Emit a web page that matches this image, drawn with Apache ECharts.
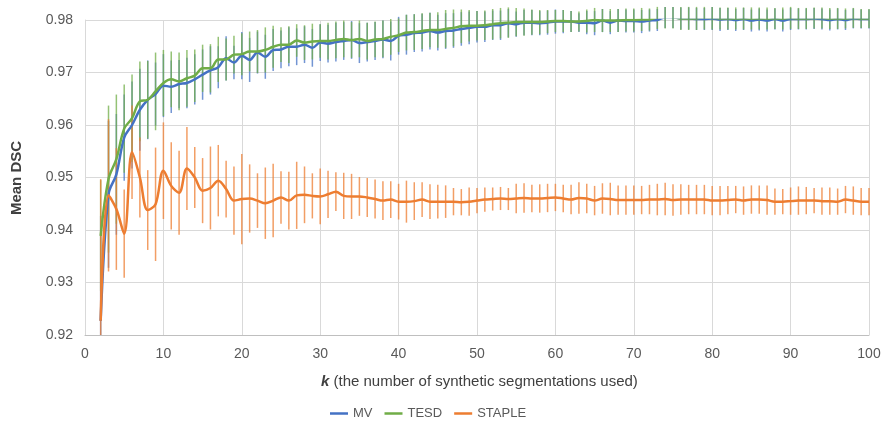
<!DOCTYPE html>
<html>
<head>
<meta charset="utf-8">
<script src="https://cdn.jsdelivr.net/npm/echarts@6/dist/echarts.min.js"></script>
<style>html,body{margin:0;padding:0;background:#fff}#c{width:889px;height:428px}</style>
</head>
<body>
<div id="c"></div>
<script>
const kValues = [2,3,4,5,6,7,8,9,10,11,12,13,14,15,16,17,18,19,20,21,22,23,24,25,26,27,28,29,30,31,32,33,34,35,36,37,38,39,40,41,42,43,44,45,46,47,48,49,50,51,52,53,54,55,56,57,58,59,60,61,62,63,64,65,66,67,68,69,70,71,72,73,74,75,76,77,78,79,80,81,82,83,84,85,86,87,88,89,90,91,92,93,94,95,96,97,98,99,100];

const mvMean = [0.9227,0.9468,0.9506,0.9576,0.9600,0.9629,0.9648,0.9659,0.9675,0.9673,0.9678,0.9680,0.9687,0.9696,0.9704,0.9710,0.9727,0.9719,0.9732,0.9724,0.9738,0.9730,0.9743,0.9744,0.9749,0.9749,0.9753,0.9747,0.9757,0.9755,0.9758,0.9760,0.9762,0.9756,0.9758,0.9760,0.9763,0.9760,0.9770,0.9772,0.9775,0.9776,0.9779,0.9776,0.9779,0.9780,0.9783,0.9785,0.9787,0.9787,0.9790,0.9790,0.9794,0.9792,0.9795,0.9795,0.9794,0.9795,0.9797,0.9797,0.9797,0.9795,0.9795,0.9794,0.9799,0.9795,0.9799,0.9798,0.9798,0.9797,0.9799,0.9800,0.9805,0.9805,0.9803,0.9803,0.9802,0.9802,0.9803,0.9801,0.9802,0.9800,0.9802,0.9799,0.9801,0.9799,0.9802,0.9799,0.9802,0.9802,0.9802,0.9803,0.9802,0.9800,0.9802,0.9800,0.9803,0.9802,0.9802];
const mvErr = [0.0200,0.0140,0.0115,0.0082,0.0083,0.0078,0.0075,0.0060,0.0060,0.0050,0.0046,0.0048,0.0048,0.0048,0.0046,0.0040,0.0042,0.0032,0.0045,0.0042,0.0040,0.0042,0.0040,0.0036,0.0037,0.0035,0.0035,0.0036,0.0035,0.0036,0.0037,0.0036,0.0036,0.0038,0.0037,0.0036,0.0036,0.0037,0.0036,0.0038,0.0036,0.0036,0.0035,0.0034,0.0034,0.0033,0.0032,0.0031,0.0030,0.0029,0.0028,0.0028,0.0027,0.0024,0.0024,0.0024,0.0023,0.0023,0.0023,0.0022,0.0020,0.0018,0.0022,0.0023,0.0022,0.0022,0.0022,0.0022,0.0022,0.0022,0.0021,0.0021,0.0020,0.0020,0.0021,0.0021,0.0021,0.0021,0.0022,0.0022,0.0021,0.0021,0.0021,0.0021,0.0021,0.0021,0.0020,0.0021,0.0021,0.0020,0.0020,0.0020,0.0020,0.0020,0.0020,0.0019,0.0019,0.0018,0.0018];

const tesdMean = [0.9389,0.9497,0.9535,0.9593,0.9613,0.9645,0.9648,0.9664,0.9680,0.9687,0.9683,0.9689,0.9694,0.9708,0.9708,0.9725,0.9725,0.9734,0.9735,0.9740,0.9740,0.9743,0.9749,0.9753,0.9753,0.9761,0.9757,0.9759,0.9760,0.9760,0.9762,0.9764,0.9762,0.9764,0.9760,0.9763,0.9764,0.9768,0.9771,0.9776,0.9777,0.9779,0.9781,0.9781,0.9783,0.9785,0.9788,0.9789,0.9789,0.9790,0.9792,0.9794,0.9795,0.9796,0.9796,0.9796,0.9796,0.9797,0.9798,0.9798,0.9797,0.9797,0.9798,0.9800,0.9799,0.9799,0.9799,0.9800,0.9800,0.9801,0.9801,0.9805,0.9806,0.9805,0.9803,0.9803,0.9803,0.9805,0.9804,0.9803,0.9803,0.9803,0.9803,0.9803,0.9803,0.9803,0.9803,0.9803,0.9804,0.9803,0.9803,0.9804,0.9804,0.9803,0.9803,0.9803,0.9804,0.9803,0.9803];
const tesdErr = [0.0106,0.0140,0.0123,0.0084,0.0083,0.0076,0.0074,0.0074,0.0063,0.0053,0.0055,0.0054,0.0050,0.0045,0.0046,0.0043,0.0040,0.0036,0.0040,0.0038,0.0041,0.0043,0.0040,0.0033,0.0035,0.0031,0.0033,0.0034,0.0032,0.0035,0.0035,0.0035,0.0034,0.0035,0.0035,0.0034,0.0035,0.0034,0.0032,0.0034,0.0034,0.0034,0.0033,0.0034,0.0036,0.0035,0.0032,0.0030,0.0028,0.0028,0.0029,0.0029,0.0029,0.0027,0.0026,0.0024,0.0023,0.0022,0.0021,0.0021,0.0020,0.0019,0.0022,0.0023,0.0022,0.0022,0.0022,0.0022,0.0022,0.0022,0.0021,0.0022,0.0022,0.0021,0.0022,0.0022,0.0022,0.0023,0.0022,0.0021,0.0021,0.0021,0.0021,0.0021,0.0021,0.0021,0.0020,0.0021,0.0021,0.0020,0.0020,0.0020,0.0020,0.0020,0.0020,0.0019,0.0019,0.0018,0.0018];

const stapleMean = [0.9227,0.9466,0.9440,0.9393,0.9548,0.9500,0.9438,0.9449,0.9513,0.9484,0.9471,0.9517,0.9500,0.9475,0.9480,0.9494,0.9478,0.9456,0.9459,0.9460,0.9456,0.9451,0.9456,0.9462,0.9456,0.9466,0.9467,0.9465,0.9464,0.9468,0.9473,0.9465,0.9464,0.9464,0.9462,0.9459,0.9456,0.9458,0.9454,0.9454,0.9455,0.9458,0.9454,0.9454,0.9454,0.9454,0.9453,0.9454,0.9456,0.9458,0.9459,0.9460,0.9459,0.9460,0.9461,0.9460,0.9460,0.9461,0.9462,0.9460,0.9458,0.9461,0.9460,0.9456,0.9460,0.9459,0.9457,0.9457,0.9457,0.9457,0.9458,0.9458,0.9459,0.9457,0.9458,0.9458,0.9458,0.9458,0.9456,0.9456,0.9457,0.9458,0.9456,0.9458,0.9458,0.9457,0.9454,0.9454,0.9455,0.9456,0.9456,0.9456,0.9455,0.9455,0.9454,0.9458,0.9456,0.9454,0.9454];
const stapleErr = [0.0270,0.0145,0.0116,0.0084,0.0089,0.0076,0.0076,0.0108,0.0092,0.0083,0.0080,0.0079,0.0058,0.0062,0.0079,0.0068,0.0054,0.0065,0.0086,0.0065,0.0052,0.0068,0.0070,0.0050,0.0055,0.0064,0.0054,0.0043,0.0053,0.0045,0.0037,0.0044,0.0043,0.0037,0.0037,0.0037,0.0037,0.0035,0.0034,0.0040,0.0036,0.0033,0.0033,0.0032,0.0031,0.0026,0.0025,0.0027,0.0024,0.0023,0.0022,0.0022,0.0021,0.0028,0.0028,0.0026,0.0027,0.0027,0.0026,0.0026,0.0028,0.0030,0.0028,0.0028,0.0029,0.0031,0.0028,0.0028,0.0028,0.0027,0.0028,0.0030,0.0031,0.0030,0.0029,0.0028,0.0028,0.0028,0.0028,0.0028,0.0027,0.0026,0.0027,0.0027,0.0027,0.0028,0.0025,0.0024,0.0026,0.0027,0.0026,0.0024,0.0026,0.0026,0.0025,0.0026,0.0027,0.0026,0.0026];

const yTicks = [0.92, 0.93, 0.94, 0.95, 0.96, 0.97, 0.98];
const xTicks = [0,10,20,30,40,50,60,70,80,90,100];
const seriesNames = ['MV', 'TESD', 'STAPLE'];

const Y_MIN = 0.92, Y_MAX = 0.98;
const COLORS = { MV: '#4472C4', TESD: '#70AD47', STAPLE: '#ED7D31' };
const FONT = 'Liberation Sans, sans-serif';

function errSeries(name, means, errs) {
  return {
    name: name + ' error',
    type: 'custom',
    data: kValues.map((k, i) => [k, means[i], errs[i]]),
    encode: { x: 0, y: 1 },
    silent: true,
    renderItem: function (params, api) {
      const k = api.value(0), m = api.value(1), e = api.value(2);
      const lo = Math.max(m - e, Y_MIN), hi = Math.min(m + e, Y_MAX + 0.0025);
      const p1 = api.coord([k, lo]), p2 = api.coord([k, hi]);
      return {
        type: 'line',
        shape: { x1: p1[0], y1: p1[1], x2: p2[0], y2: p2[1] },
        style: { stroke: COLORS[name], lineWidth: 1.5, opacity: 0.75 }
      };
    }
  };
}
function lineSeries(name, means) {
  return {
    name: name,
    type: 'line',
    data: kValues.map((k, i) => [k, means[i]]),
    symbol: 'none',
    smooth: 0.35,
    lineStyle: { color: COLORS[name], width: 2.5 },
    itemStyle: { color: COLORS[name] },
    emphasis: { disabled: true }
  };
}

const chart = echarts.init(document.getElementById('c'), null, { renderer: 'canvas' });
chart.setOption({
  animation: false,
  backgroundColor: '#ffffff',
  textStyle: { fontFamily: FONT },
  grid: { left: 85, right: 20, top: 20, bottom: 93, containLabel: false },
  xAxis: {
    type: 'value', min: xTicks[0], max: xTicks[xTicks.length - 1], interval: 10,
    axisLine: { show: true, lineStyle: { color: '#bfbfbf', width: 1 } },
    axisTick: { show: false },
    splitLine: { show: true, lineStyle: { color: '#d9d9d9', width: 1 } },
    axisLabel: { color: '#595959', fontSize: 14, margin: 12, fontFamily: FONT }
  },
  yAxis: {
    type: 'value', min: yTicks[0], max: yTicks[yTicks.length - 1], interval: 0.01,
    axisLine: { show: true, lineStyle: { color: '#d9d9d9', width: 1 } },
    axisTick: { show: false },
    splitLine: { show: true, lineStyle: { color: '#d9d9d9', width: 1 } },
    axisLabel: { color: '#595959', fontSize: 14, margin: 12, formatter: v => v.toFixed(2), fontFamily: FONT }
  },
  legend: {
    data: seriesNames,
    top: 402, left: 325,
    icon: 'rect', itemWidth: 18, itemHeight: 2.5, itemGap: 12,
    textStyle: { color: '#595959', fontSize: 13, fontFamily: FONT }
  },
  graphic: [
    {
      type: 'text', left: 321, top: 374,
      style: {
        text: '{b|k} (the number of synthetic segmentations used)',
        fill: '#404040', fontSize: 15, fontFamily: FONT,
        rich: { b: { fontWeight: 'bold', fontStyle: 'italic', fontSize: 15, fill: '#404040', fontFamily: FONT } }
      }
    },
    {
      type: 'text', x: 17, y: 178, rotation: Math.PI / 2,
      style: {
        text: 'Mean DSC', fill: '#404040', fontSize: 15, fontWeight: 'bold',
        align: 'center', verticalAlign: 'middle', fontFamily: FONT
      }
    }
  ],
  series: [
    errSeries('MV', mvMean, mvErr),
    errSeries('TESD', tesdMean, tesdErr),
    errSeries('STAPLE', stapleMean, stapleErr),
    lineSeries('MV', mvMean),
    lineSeries('TESD', tesdMean),
    lineSeries('STAPLE', stapleMean)
  ]
});
</script>
</body>
</html>
